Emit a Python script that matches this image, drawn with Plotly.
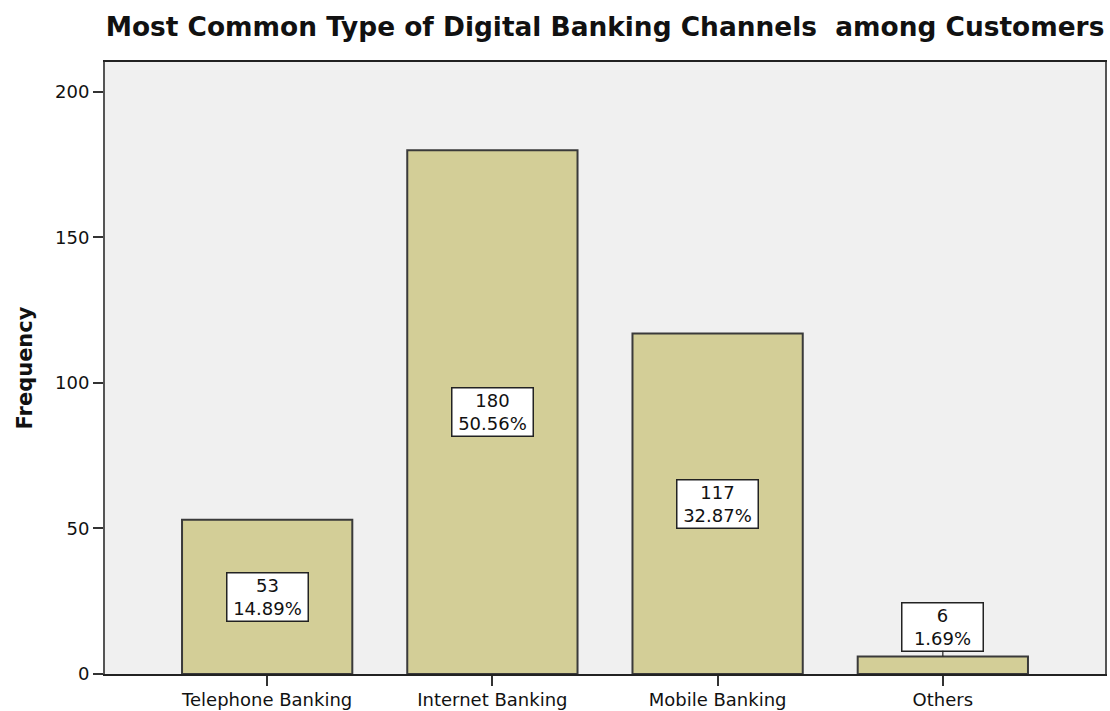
import plotly.graph_objects as go

channels = ["Telephone Banking", "Internet Banking", "Mobile Banking", "Others"]
frequency = [53, 180, 117, 6]
percent = [14.89, 50.56, 32.87, 1.69]
y_ticks = [0, 50, 100, 150, 200]

FONT = "DejaVu Sans"
W, H = 1110, 711

fig = go.Figure(go.Bar(
    x=channels,
    y=frequency,
    width=0.756,
    marker=dict(color="#D3CE97", line=dict(color="#3a3a3a", width=2)),
    hoverinfo="x+y",
))

# value boxes: centred inside the bar, or above with a leader line when the bar is too short
for name, n, p in zip(channels, frequency, percent):
    small = n < 20
    fig.add_annotation(
        x=name, y=n if small else n / 2,
        text=f"{n}<br>{p:.2f}%",
        showarrow=small, arrowhead=0, arrowwidth=1.2, arrowcolor="#222",
        ax=0, ay=-30,
        width=80, height=47,
        bgcolor="white", bordercolor="#222", borderwidth=1.5, borderpad=0,
        font=dict(family=FONT, size=18, color="#111"),
    )

fig.update_xaxes(
    type="category",
    range=[-0.72, 3.72],
    automargin=False,
    showline=True, linecolor="#222", linewidth=2, mirror=True,
    ticks="outside", ticklen=10, tickwidth=2, tickcolor="#333",
    tickfont=dict(family=FONT, size=18, color="#111"),
    ticklabelstandoff=-2,
    showgrid=False,
)
fig.update_yaxes(
    range=[0, 210.3],
    tickvals=y_ticks,
    automargin=False,
    showline=True, linecolor="#555", linewidth=2, mirror=True,
    ticks="outside", ticklen=10, tickwidth=2, tickcolor="#333",
    tickfont=dict(family=FONT, size=18, color="#111"),
    showgrid=False, zeroline=False,
    title=dict(text="<b>Frequency</b>", font=dict(family=FONT, size=21, color="#111"), standoff=17),
)
fig.update_layout(
    width=W, height=H,
    title=dict(
        text="<b>Most Common Type of Digital Banking Channels  among Customers</b>",
        font=dict(family=FONT, size=26.4, color="#111"),
        xref="paper", x=0.5, xanchor="center",
        yref="container", y=1 - 27 / H, yanchor="middle",
        automargin=False,
    ),
    margin=dict(l=105, r=5, t=62, b=37, autoexpand=False),
    plot_bgcolor="#F0F0F0",
    paper_bgcolor="white",
    showlegend=False,
)

# drop the default 8px body margin so the figure fills the window exactly
fig.write_html(
    "out.html",
    config={"displayModeBar": False},
    post_script="document.body.style.margin='0';",
)
